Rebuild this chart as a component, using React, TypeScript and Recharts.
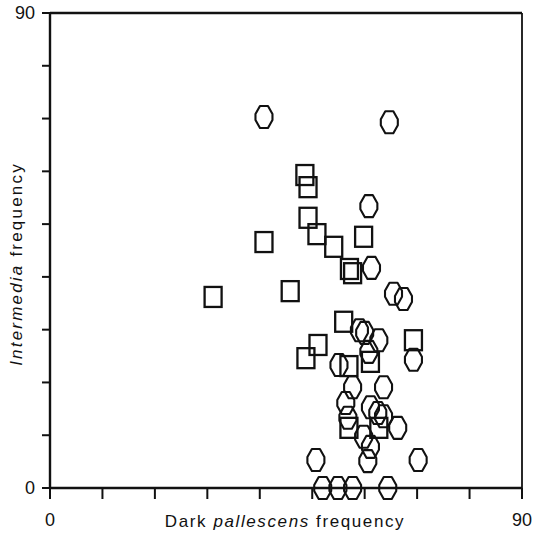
import React from 'react';
import { ScatterChart, Scatter, XAxis, YAxis, ReferenceLine } from 'recharts';

// Squares series: [dark pallescens frequency, intermedia frequency]
const squareX = [48.6, 49.2, 49.2, 50.9, 54.1, 59.8, 40.8, 57.1, 57.7, 31.1, 45.8, 56.0, 51.1, 48.8, 61.1, 57.0, 69.3, 57.0, 62.7];
const squareY = [59.3, 57.0, 51.2, 48.1, 45.7, 47.6, 46.6, 41.5, 40.7, 36.2, 37.3, 31.5, 27.1, 24.6, 23.9, 23.1, 28.0, 11.4, 11.4];

// Hexagon series
const hexX = [40.8, 64.7, 60.8, 61.3, 65.5, 67.4, 59.0, 60.0, 62.7, 60.8, 69.3, 55.1, 57.7, 63.6, 56.4, 61.1, 62.5, 63.6, 56.8, 66.3, 59.8, 61.1, 60.6, 50.7, 70.2, 52.0, 54.9, 57.7, 64.4];
const hexY = [70.3, 69.3, 53.4, 41.7, 36.8, 35.8, 29.9, 29.4, 28.0, 25.8, 24.3, 23.3, 19.1, 19.1, 16.1, 15.3, 14.2, 13.6, 13.3, 11.4, 9.7, 7.8, 5.1, 5.3, 5.3, 0, 0, 0, 0];

const axisTicks = [0, 10, 20, 30, 40, 50, 60, 70, 80, 90];
const labelledTicks = [0, 90];

const squares = squareX.map((x, i) => ({ x, y: squareY[i] }));
const hexes = hexX.map((x, i) => ({ x, y: hexY[i] }));

const INK = '#111111';
const FONT = '"Liberation Sans", Arial, sans-serif';

const SquareShape = (props: any) => {
  const { cx, cy } = props;
  return <rect x={cx - 8.5} y={cy - 10} width={17} height={20} fill="none" stroke={INK} strokeWidth={2.3} />;
};

const HexShape = (props: any) => {
  const { cx, cy } = props;
  const pts = [
    [-4, -11], [4, -11], [8.5, -3], [8.5, 3], [4, 11], [-4, 11], [-8.5, 3], [-8.5, -3],
  ].map(([dx, dy]) => `${cx + dx},${cy + dy}`).join(' ');
  return <polygon points={pts} fill="none" stroke={INK} strokeWidth={2.1} strokeLinejoin="round" />;
};

const XTick = (props: any) => {
  const { x, y, payload } = props;
  if (!labelledTicks.includes(payload.value)) return <g />;
  return (
    <text x={x} y={y} dy="0.71em" textAnchor="middle" fontSize={18} fontFamily={FONT} fill={INK}>
      {payload.value}
    </text>
  );
};

const YTick = (props: any) => {
  const { x, y, payload } = props;
  if (!labelledTicks.includes(payload.value)) return <g />;
  return (
    <text x={x} y={y} dy="0.36em" textAnchor="end" fontSize={18} fontFamily={FONT} fill={INK}>
      {payload.value}
    </text>
  );
};

export default function App() {
  return (
    <div style={{ position: 'absolute', left: 0, top: 0, width: 533, height: 541, background: '#fff' }}>
      <ScatterChart width={533} height={541} margin={{ top: 13, right: 11, bottom: 0, left: 0 }}>
        <XAxis
          type="number"
          dataKey="x"
          domain={[0, 90]}
          ticks={axisTicks}
          interval={0}
          height={53}
          tickSize={11}
          tickMargin={14}
          tick={<XTick />}
          axisLine={{ stroke: INK, strokeWidth: 2.4 }}
          tickLine={{ stroke: INK, strokeWidth: 2 }}
        />
        <YAxis
          type="number"
          dataKey="y"
          domain={[0, 90]}
          ticks={axisTicks}
          interval={0}
          width={50}
          tickSize={8}
          tickMargin={7}
          tick={<YTick />}
          axisLine={{ stroke: INK, strokeWidth: 2.4 }}
          tickLine={{ stroke: INK, strokeWidth: 2 }}
        />
        <ReferenceLine y={90} stroke={INK} strokeWidth={2.4} />
        <ReferenceLine x={90} stroke={INK} strokeWidth={1.8} />
        <Scatter data={squares} shape={<SquareShape />} isAnimationActive={false} />
        <Scatter data={hexes} shape={<HexShape />} isAnimationActive={false} />
      </ScatterChart>
      <svg width={533} height={541} style={{ position: 'absolute', left: 0, top: 0, pointerEvents: 'none' }}>
        <text x={285} y={527} textAnchor="middle" fontSize={17} fontFamily={FONT} fill={INK} letterSpacing={1.6}>
          Dark <tspan fontStyle="italic">pallescens</tspan> frequency
        </text>
        <text
          transform="translate(22, 264) rotate(-90)"
          textAnchor="middle"
          fontSize={17}
          fontFamily={FONT}
          fill={INK}
          letterSpacing={2.2}
        >
          <tspan fontStyle="italic">Intermedia</tspan> frequency
        </text>
      </svg>
    </div>
  );
}
